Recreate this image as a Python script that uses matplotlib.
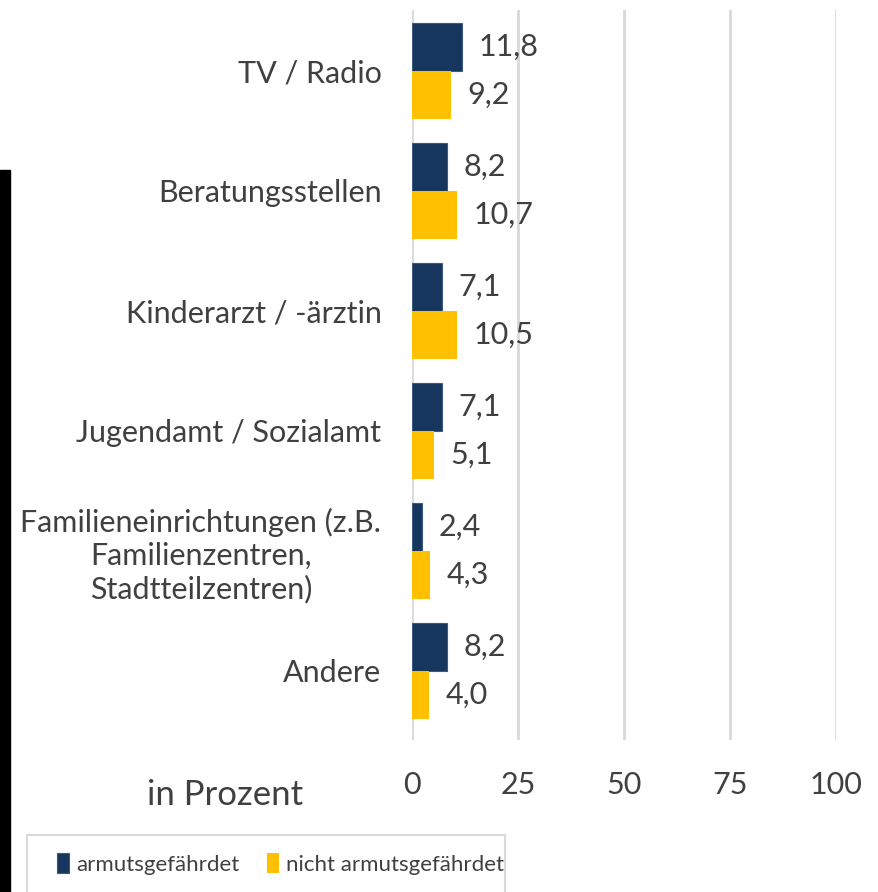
import matplotlib.pyplot as plt
from matplotlib.patches import Rectangle

# --- DATA ---
categories = ["TV / Radio", "Beratungsstellen", "Kinderarzt / -ärztin",
              "Jugendamt / Sozialamt",
              "Familieneinrichtungen (z.B.\nFamilienzentren,\nStadtteilzentren)",
              "Andere"]
armut = [11.8, 8.2, 7.1, 7.1, 2.4, 8.2]
nicht_armut = [9.2, 10.7, 10.5, 5.1, 4.3, 4.0]
series_names = ["armutsgefährdet", "nicht armutsgefährdet"]
xticks = [0, 25, 50, 75, 100]

DARK = "#17365D"
YELLOW = "#FFC000"
TXT = "#404040"

plt.rcParams['font.family'] = ['Lato', 'DejaVu Sans']

fig = plt.figure(figsize=(8.79, 8.92), dpi=100)
ax = fig.add_axes([412 / 879, 1 - 740 / 892, 424 / 879, 730 / 892])

y = list(range(len(categories)))
h = 0.4
b1 = ax.barh([v - h / 2 for v in y], armut, height=h, color=DARK,
             edgecolor="#3a5a85", linewidth=0.8, label=series_names[0], zorder=3)
b2 = ax.barh([v + h / 2 for v in y], nicht_armut, height=h, color=YELLOW,
             label=series_names[1], zorder=3)

for bars, vals in ((b1, armut), (b2, nicht_armut)):
    for bar, v in zip(bars, vals):
        ax.annotate(f"{v:.1f}".replace(".", ","),
                    (bar.get_width(), bar.get_y() + bar.get_height() / 2),
                    xytext=(12, 0), textcoords="offset points",
                    va="center", ha="left", fontsize=22, color=TXT)

ax.set_xlim(0, 100)
ax.set_ylim(len(categories) - 1 + 0.575, -0.508)
ax.set_xticks(xticks)
ax.set_xticklabels([str(t) for t in xticks], fontsize=22, color=TXT)
ax.set_yticks(y)
ax.set_yticklabels(categories, fontsize=22, color=TXT, multialignment="center")
ax.tick_params(axis="both", length=0)
ax.tick_params(axis="x", pad=22)
ax.tick_params(axis="y", pad=22)
ax.xaxis.grid(True, color="#D9D9D9", linewidth=2, zorder=0)
for s in ax.spines.values():
    s.set_visible(False)

fig.text(225 / 879, 1 - 795 / 892, "in Prozent", fontsize=25, color=TXT,
         ha="center", va="center")

# legend box at the bottom (cut off by the image edge)
fig.patches.append(Rectangle((27 / 879, -0.02), 478 / 879, 0.02 + 1 - 835 / 892,
                             transform=fig.transFigure, facecolor="white",
                             edgecolor="#D9D9D9", linewidth=1.5, zorder=5))
leg = fig.legend(handles=[b1, b2], labels=series_names, loc="center left",
                 bbox_to_anchor=(48 / 879, 1 - 864 / 892), ncol=2, fontsize=16,
                 frameon=False, handlelength=0.55, handleheight=0.95,
                 handletextpad=0.3, columnspacing=1.25, borderaxespad=0)
leg.set_zorder(6)
for t in leg.get_texts():
    t.set_color(TXT)

# dark edge on the left side of the screenshot
fig.patches.append(Rectangle((0, 0), 10 / 879, 1 - 170 / 892, transform=fig.transFigure,
                             color="black", zorder=10))

fig.savefig("out.png", dpi=100)
